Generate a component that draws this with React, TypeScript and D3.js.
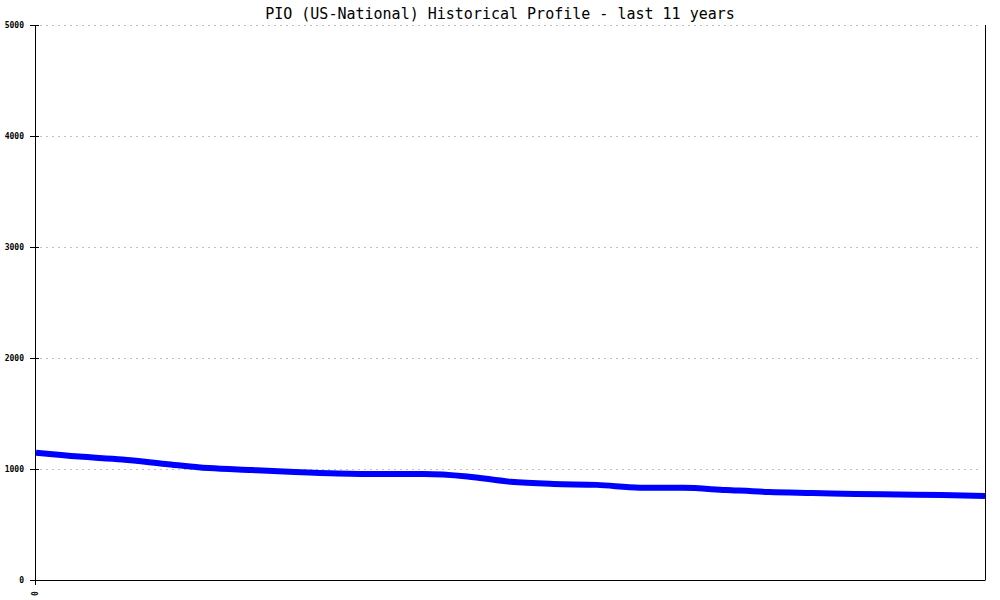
import React from "react";
import * as d3 from "d3";

const TITLE = "PIO (US-National) Historical Profile - last 11 years";
const yearsAxis: number[] = [0, 0.5, 1, 1.5, 2, 2.5, 3, 3.5, 4, 4.5, 5, 5.5, 6, 6.5, 7, 7.5, 8, 8.5, 9, 9.5, 10, 10.5, 11];
const values: number[] = [1147, 1112, 1086, 1046, 1008, 990, 973, 960, 955, 955, 933, 885, 865, 857, 832, 830, 811, 793, 784, 775, 770, 766, 757];
const yTicks: number[] = [0, 1000, 2000, 3000, 4000, 5000];
const xTickLabels: string[] = ["0"];

export default function App() {
  const W = 1000, H = 600;
  const left = 35.5, right = 985.5, top = 25, bottom = 580;
  const x = d3.scaleLinear().domain([0, 11]).range([left + 0.5, right - 0.5]);
  const y = d3.scaleLinear().domain([0, 5000]).range([bottom, top]);
  const line = d3
    .line<number>()
    .x((_, i) => x(yearsAxis[i]))
    .y((d) => y(d))
    .curve(d3.curveMonotoneX);
  const mono = "'DejaVu Sans Mono', 'Liberation Mono', monospace";
  return (
    <svg
      width={W}
      height={H}
      style={{ position: "absolute", left: 0, top: 0, background: "#fff" }}
    >
      <rect x={0} y={0} width={W} height={H} fill="#fff" />
      <text x={500} y={19} textAnchor="middle" fontFamily={mono} fontSize={15} fill="#000">
        {TITLE}
      </text>
      {yTicks.map((t) => (
        <g key={t}>
          {t > 0 && (
            <line
              x1={40}
              x2={982}
              y1={Math.round(y(t)) + 0.5}
              y2={Math.round(y(t)) + 0.5}
              stroke="#c0c0c0"
              strokeDasharray="2,4"
            />
          )}
          <line x1={30} x2={39} y1={Math.round(y(t)) + 0.5} y2={Math.round(y(t)) + 0.5} stroke="#000" />
          <text
            x={24}
            y={Math.round(y(t)) + 3}
            textAnchor="end"
            fontFamily={mono}
            fontSize={8}
            fontWeight="bold"
            fill="#000"
          >
            {t}
          </text>
        </g>
      ))}
      <path d={line(values) || ""} fill="none" stroke="#0000ff" strokeWidth={6} />
      <line x1={left} x2={left} y1={top} y2={bottom} stroke="#000" strokeWidth={1} />
      <line x1={right} x2={right} y1={top} y2={bottom} stroke="#000" strokeWidth={1} />
      <line x1={left} x2={right} y1={bottom + 0.5} y2={bottom + 0.5} stroke="#000" strokeWidth={1} />
      {xTickLabels.map((lab, i) => (
        <g key={lab}>
          <line x1={x(i) - 0.5} x2={x(i) - 0.5} y1={bottom} y2={bottom + 5} stroke="#000" />
          <text
            transform={`translate(${x(i) + 2},${596}) rotate(-90)`}
            fontFamily={mono}
            fontSize={8}
            fontWeight="bold"
            fill="#000"
          >
            {lab}
          </text>
        </g>
      ))}
    </svg>
  );
}
